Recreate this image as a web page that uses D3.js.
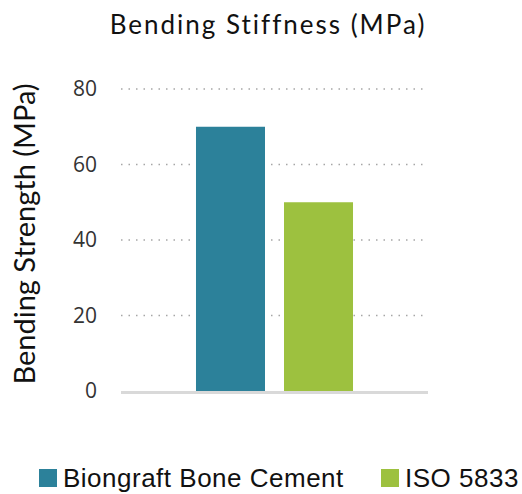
<!DOCTYPE html>
<html>
<head>
<meta charset="utf-8">
<script src="https://cdn.jsdelivr.net/npm/d3@7"></script>
<style>
  body { margin: 0; background: #fff; }
  svg { display: block; }
</style>
</head>
<body>
<div id="chart"></div>
<script>
/* DATA */
const categories = ["Biongraft Bone Cement", "ISO 5833"];
const values = [70, 50];
const colors = ["#2c819a", "#9dc13f"];
const yTicks = [0, 20, 40, 60, 80];

/* CONSTANTS */
const width = 522,
  height = 494,
  margin = { top: 89, bottom: 103, left: 121, right: 94 };

const svg = d3.select("#chart")
  .append("svg")
  .attr("width", width)
  .attr("height", height);

// scales
const xScale = d3.scaleBand()
  .domain(categories)
  .range([margin.left, width - margin.right])
  .paddingInner(0.216)
  .paddingOuter(0.852);

const yScale = d3.scaleLinear()
  .domain([0, 80])
  .range([height - margin.bottom, margin.top]);

// gridlines (dotted)
svg.append("g")
  .selectAll("line")
  .data(yTicks.filter(d => d > 0))
  .join("line")
  .attr("x1", margin.left)
  .attr("x2", width - margin.right)
  .attr("y1", d => yScale(d))
  .attr("y2", d => yScale(d))
  .attr("stroke", "#a6a6a6")
  .attr("stroke-width", 1.5)
  .attr("stroke-dasharray", "1.5,6");

// y axis labels
const yAxis = d3.axisLeft(yScale).tickValues(yTicks).tickSize(0).tickPadding(24);
svg.append("g")
  .attr("transform", `translate(${margin.left},0)`)
  .call(yAxis)
  .call(g => g.select(".domain").remove())
  .selectAll("text")
  .attr("font-family", "'Open Sans', sans-serif")
  .attr("font-size", 21)
  .attr("fill", "#333");

// bars
svg.append("g")
  .selectAll("rect")
  .data(categories)
  .join("rect")
  .attr("x", d => xScale(d))
  .attr("width", xScale.bandwidth())
  .attr("y", (d, i) => yScale(values[i]))
  .attr("height", (d, i) => yScale(0) - yScale(values[i]))
  .attr("fill", (d, i) => colors[i]);

// baseline
svg.append("line")
  .attr("x1", margin.left)
  .attr("x2", width - margin.right)
  .attr("y1", yScale(0) + 1.5)
  .attr("y2", yScale(0) + 1.5)
  .attr("stroke", "#d9d9d9")
  .attr("stroke-width", 3);

// title
svg.append("text")
  .attr("x", 268)
  .attr("y", 34)
  .attr("text-anchor", "middle")
  .attr("font-family", "Lato, sans-serif")
  .attr("font-size", 26)
  .attr("letter-spacing", 2)
  .attr("fill", "#111")
  .text("Bending Stiffness (MPa)");

// y axis title
svg.append("text")
  .attr("transform", `translate(35,234) rotate(-90)`)
  .attr("text-anchor", "middle")
  .attr("font-family", "Lato, sans-serif")
  .attr("font-size", 29)
  .attr("fill", "#111")
  .text("Bending Strength (MPa)");

// legend
const legendX = [39, 381];
const legend = svg.append("g")
  .selectAll("g")
  .data(categories)
  .join("g")
  .attr("transform", (d, i) => `translate(${legendX[i]},469)`);

legend.append("rect")
  .attr("width", 18)
  .attr("height", 18)
  .attr("fill", (d, i) => colors[i]);

legend.append("text")
  .attr("x", 24)
  .attr("y", 18)
  .attr("font-family", "'Liberation Sans', Arial, sans-serif")
  .attr("font-size", 26)
  .attr("letter-spacing", 0.5)
  .attr("fill", "#111")
  .text(d => d);
</script>
</body>
</html>
